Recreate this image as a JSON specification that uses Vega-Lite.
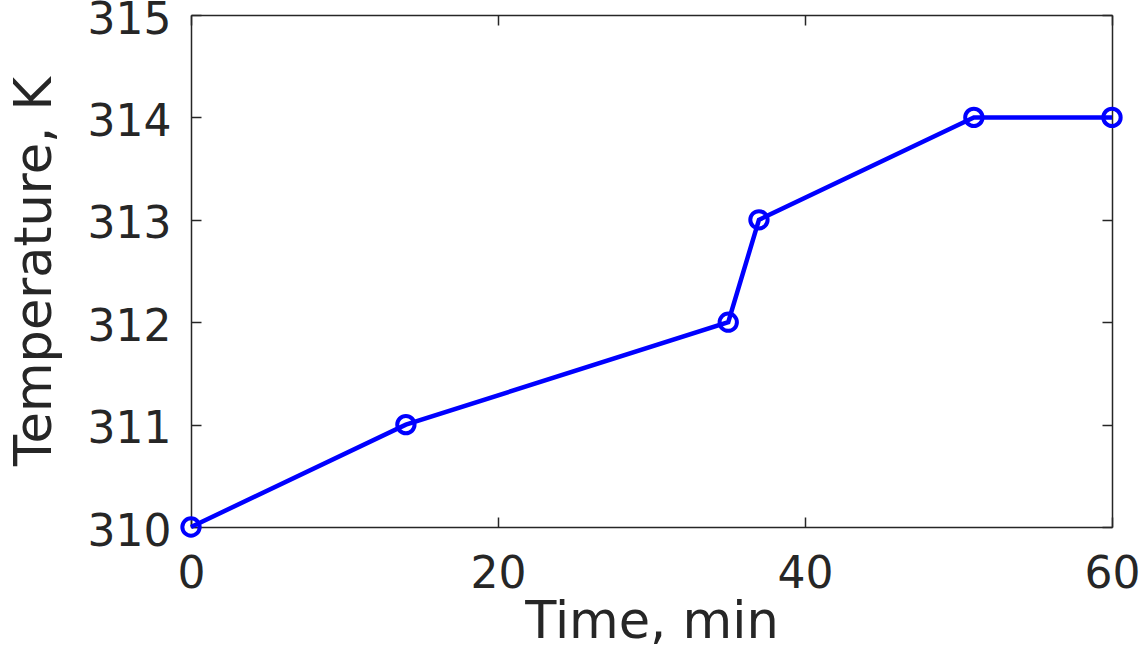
{
  "$schema": "https://vega.github.io/schema/vega-lite/v6.json",
  "autosize": "none",
  "width": 921,
  "height": 512,
  "padding": {"left": 191, "top": 15, "right": 32, "bottom": 128},
  "background": "white",
  "config": {
    "view": {"stroke": null},
    "font": "DejaVu Sans",
    "axis": {
      "grid": false,
      "domainColor": "#262626",
      "domainWidth": 1.5,
      "tickColor": "#262626",
      "tickWidth": 1.5,
      "tickSize": -10,
      "labelColor": "#262626",
      "labelFont": "DejaVu Sans",
      "labelFontSize": 44,
      "titleColor": "#262626",
      "titleFont": "DejaVu Sans",
      "titleFontSize": 51,
      "titleFontWeight": "normal",
      "labelFlush": false,
      "labelOverlap": false
    }
  },
  "data": {
    "values": [
      {"time": 0, "temp": 310},
      {"time": 14, "temp": 311},
      {"time": 35, "temp": 312},
      {"time": 37, "temp": 313},
      {"time": 51, "temp": 314},
      {"time": 60, "temp": 314}
    ]
  },
  "layer": [
    {
      "mark": {"type": "line", "color": "#0000ff", "strokeWidth": 4.5, "clip": false},
      "encoding": {
        "x": {
          "field": "time", "type": "quantitative",
          "scale": {"domain": [0, 60], "nice": false, "zero": false},
          "axis": {"orient": "bottom", "values": [0, 20, 40, 60], "title": "Time, min", "labelPadding": 35, "titlePadding": 1}
        },
        "y": {
          "field": "temp", "type": "quantitative",
          "scale": {"domain": [310, 315], "nice": false, "zero": false},
          "axis": {"orient": "left", "values": [310, 311, 312, 313, 314, 315], "title": "Temperature, K", "labelPadding": 30, "labelOffset": 5, "titlePadding": 26, "format": "d"}
        }
      }
    },
    {
      "mark": {"type": "point", "shape": "circle", "filled": false, "color": "#0000ff", "strokeWidth": 4, "size": 300, "opacity": 1, "clip": false},
      "encoding": {
        "x": {
          "field": "time", "type": "quantitative",
          "axis": {"orient": "top", "values": [0, 20, 40, 60], "labels": false, "title": null}
        },
        "y": {
          "field": "temp", "type": "quantitative",
          "axis": {"orient": "right", "values": [310, 311, 312, 313, 314, 315], "labels": false, "title": null}
        }
      }
    }
  ],
  "resolve": {"axis": {"x": "independent", "y": "independent"}}
}
